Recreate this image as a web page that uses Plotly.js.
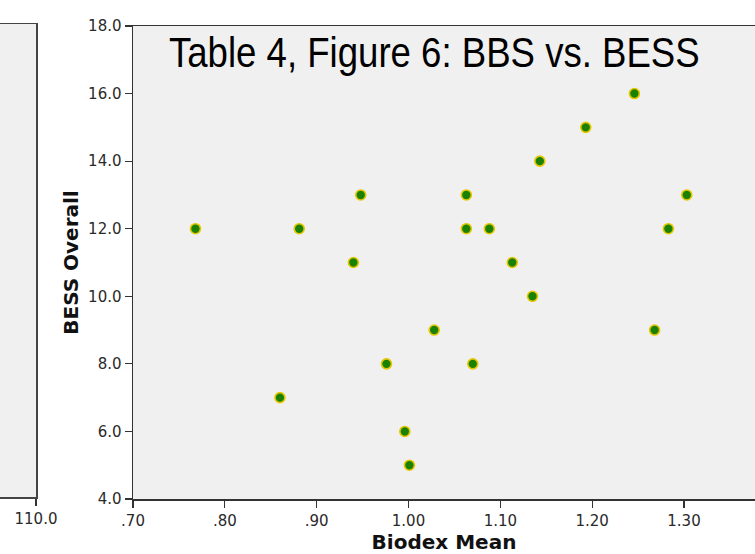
<!DOCTYPE html>
<html>
<head>
<meta charset="utf-8">
<script src="https://cdn.plot.ly/plotly-3.0.1.min.js"></script>
<style>
  html, body { margin: 0; padding: 0; background: #ffffff; }
  #chart { width: 755px; height: 554px; }
</style>
</head>
<body>
<div id="chart"></div>
<script>
// Biodex Mean (x) vs BESS Overall (y)
const biodexMean = [0.768, 0.860, 0.881, 0.940, 0.948, 0.976, 0.996, 1.001, 1.028, 1.063, 1.063,
                    1.070, 1.088, 1.113, 1.135, 1.143, 1.193, 1.246, 1.268, 1.283, 1.303];
const bessOverall = [12, 7, 12, 11, 13, 8, 6, 5, 9, 13, 12,
                     8, 12, 11, 10, 14, 15, 16, 9, 12, 13];
const xTickVals = [0.70, 0.80, 0.90, 1.00, 1.10, 1.20, 1.30];
const xTickText = ['.70', '.80', '.90', '1.00', '1.10', '1.20', '1.30'];
const yTickVals = [4, 6, 8, 10, 12, 14, 16, 18];
const yTickText = ['4.0', '6.0', '8.0', '10.0', '12.0', '14.0', '16.0', '18.0'];
// neighbouring (cropped) panel: only its last x tick is visible
const leftPanelTickVals = [110];
const leftPanelTickText = ['110.0'];

const tickFont = { family: 'DejaVu Sans, sans-serif', size: 15, color: '#2a2a2a' };
const axisTitleFont = { family: 'DejaVu Sans, sans-serif', size: 20, color: '#111111', weight: 'bold' };
const W = 755, H = 554;
const mL = 0, mR = 0, mT = 24, mB = 55;
const plotH = H - mT - mB;
const titleSize = 36.6;          // natural width fits the reference width
const titleStretchY = 43 / 36.6; // tall, condensed look of the reference face

const trace = {
  x: biodexMean,
  y: bessOverall,
  type: 'scatter',
  mode: 'markers',
  xaxis: 'x',
  yaxis: 'y',
  marker: { size: 10, color: '#1a8200', line: { color: '#e6c800', width: 1.6 } },
  hoverinfo: 'x+y',
  showlegend: false
};
// invisible trace to make the left (cropped) panel exist
const leftTrace = {
  x: [], y: [], type: 'scatter', mode: 'markers', xaxis: 'x2', yaxis: 'y2', showlegend: false
};

const layout = {
  width: W, height: H,
  margin: { l: mL, r: mR, t: mT, b: mB, pad: 0 },
  paper_bgcolor: '#ffffff',
  plot_bgcolor: '#f0f0f0',
  title: {
    text: 'Table 4, Figure 6: BBS vs. BESS',
    font: { family: 'Liberation Sans, Arial, sans-serif', size: titleSize, color: '#000000' },
    xref: 'paper', yref: 'container',
    x: 169 / W, xanchor: 'left',
    y: 1 - 52 / H, yanchor: 'middle'
  },
  xaxis: {
    domain: [133 / W, 1],
    range: [0.70, 1.3773],
    tickmode: 'array', tickvals: xTickVals, ticktext: xTickText,
    ticks: 'outside', ticklen: 7, tickwidth: 1.2, tickcolor: '#333333',
    tickfont: tickFont,
    showgrid: false, zeroline: false,
    showline: true, linecolor: '#333333', linewidth: 1.5, mirror: true,
    anchor: 'y',
    title: { text: 'Biodex Mean', font: axisTitleFont, standoff: 6 }
  },
  yaxis: {
    domain: [0, (plotH - 2) / plotH],
    range: [4, 18],
    tickmode: 'array', tickvals: yTickVals, ticktext: yTickText,
    ticks: 'outside', ticklen: 7, tickwidth: 1.2, tickcolor: '#333333',
    tickfont: tickFont,
    showgrid: false, zeroline: false,
    showline: true, linecolor: '#333333', linewidth: 1.5, mirror: false,
    anchor: 'x',
    title: { text: 'BESS Overall', font: axisTitleFont, standoff: 4 }
  },
  xaxis2: {
    domain: [0, 36 / W],
    range: [0, 110],
    tickmode: 'array', tickvals: leftPanelTickVals, ticktext: leftPanelTickText,
    ticks: 'outside', ticklen: 7, tickwidth: 1.2, tickcolor: '#333333',
    tickfont: tickFont,
    showgrid: false, zeroline: false,
    showline: true, linecolor: '#444444', linewidth: 1.5, mirror: true,
    anchor: 'y2', fixedrange: true
  },
  yaxis2: {
    domain: [2 / plotH, 1],
    range: [0, 1],
    side: 'right',
    showticklabels: false, ticks: '',
    showgrid: false, zeroline: false,
    showline: true, linecolor: '#444444', linewidth: 1.5,
    anchor: 'x2', fixedrange: true
  }
};

Plotly.newPlot('chart', [trace, leftTrace], layout, { displayModeBar: false, staticPlot: true })
  .then(function (gd) {
    // emulate the tall condensed title face: stretch vertically about the baseline
    const t = gd.querySelector('.g-gtitle text');
    if (t) {
      const by = parseFloat(t.getAttribute('y')) || 0;
      const prev = t.getAttribute('transform') || '';
      t.setAttribute('transform', prev + ' translate(0,' + by + ') scale(1,' + titleStretchY + ') translate(0,' + (-by) + ')');
    }
  });
</script>
</body>
</html>
